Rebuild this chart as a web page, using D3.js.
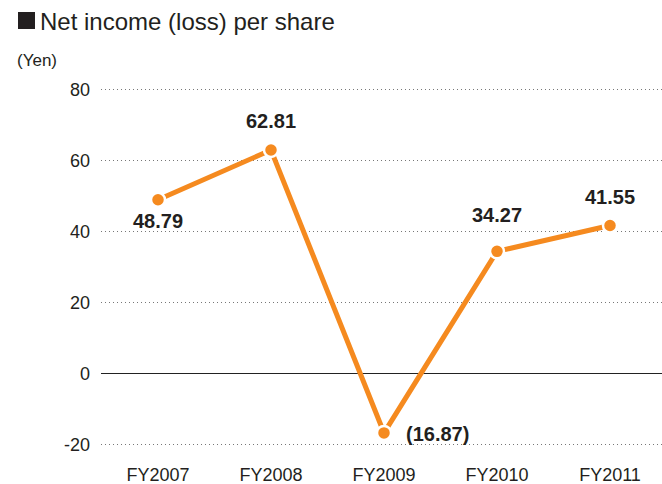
<!DOCTYPE html>
<html>
<head>
<meta charset="utf-8">
<script src="https://cdn.jsdelivr.net/npm/d3@7"></script>
<style>
  body { margin: 0; background: #fff; }
  svg text { font-family: "Liberation Sans", Arial, sans-serif; fill: #231f20; }
</style>
</head>
<body>
<div id="chart"></div>
<script>
// data
const years = ["FY2007", "FY2008", "FY2009", "FY2010", "FY2011"];
const eps = [48.79, 62.81, -16.87, 34.27, 41.55];
const epsLabels = ["48.79", "62.81", "(16.87)", "34.27", "41.55"];
const yTicks = [-20, 0, 20, 40, 60, 80];

const width = 662, height = 484;
const svg = d3.select("#chart").append("svg")
  .attr("width", width)
  .attr("height", height);

const x = d3.scalePoint().domain(years).range([158, 610]);
const y = d3.scaleLinear().domain([-20, 80]).range([444, 89]);

// title
svg.append("rect").attr("x", 18).attr("y", 12).attr("width", 17).attr("height", 17).attr("fill", "#231f20");
svg.append("text").attr("x", 40).attr("y", 30).attr("font-size", 24).text("Net income (loss) per share");
svg.append("text").attr("x", 17).attr("y", 66).attr("font-size", 17).text("(Yen)");

// grid
svg.append("g").selectAll("line")
  .data(yTicks)
  .join("line")
  .attr("x1", 101).attr("x2", 662)
  .attr("y1", d => Math.round(y(d)) + 0.5).attr("y2", d => Math.round(y(d)) + 0.5)
  .attr("stroke", d => d == 0 ? "#222" : "#777")
  .attr("stroke-width", 1)
  .attr("stroke-dasharray", d => d == 0 ? null : "1,3");

// y tick labels
svg.append("g").selectAll("text")
  .data(yTicks)
  .join("text")
  .attr("x", 90)
  .attr("y", d => y(d) + 7)
  .attr("text-anchor", "end")
  .attr("font-size", 18)
  .text(d => d);

// x labels
svg.append("g").selectAll("text")
  .data(years)
  .join("text")
  .attr("x", d => x(d))
  .attr("y", 481)
  .attr("text-anchor", "middle")
  .attr("font-size", 18)
  .text(d => d);

const pts = years.map((d, i) => ({ year: d, v: eps[i], label: epsLabels[i] }));

svg.append("path")
  .datum(pts)
  .attr("fill", "none")
  .attr("stroke", "#f58a1f")
  .attr("stroke-width", 5)
  .attr("d", d3.line().x(d => x(d.year)).y(d => y(d.v)));

svg.append("g").selectAll("circle")
  .data(pts)
  .join("circle")
  .attr("cx", d => x(d.year))
  .attr("cy", d => y(d.v))
  .attr("r", 7)
  .attr("fill", "#f58a1f")
  .attr("stroke", "#fff")
  .attr("stroke-width", 2.5);

// value labels (offsets per point)
const offs = [[0, 28, "middle"], [0, -22, "middle"], [22, 8, "start"], [0, -29, "middle"], [0, -21, "middle"]];
svg.append("g").selectAll("text")
  .data(pts)
  .join("text")
  .attr("x", (d, i) => x(d.year) + offs[i][0])
  .attr("y", (d, i) => y(d.v) + offs[i][1])
  .attr("text-anchor", (d, i) => offs[i][2])
  .attr("font-size", 20)
  .attr("font-weight", "bold")
  .text(d => d.label);
</script>
</body>
</html>
